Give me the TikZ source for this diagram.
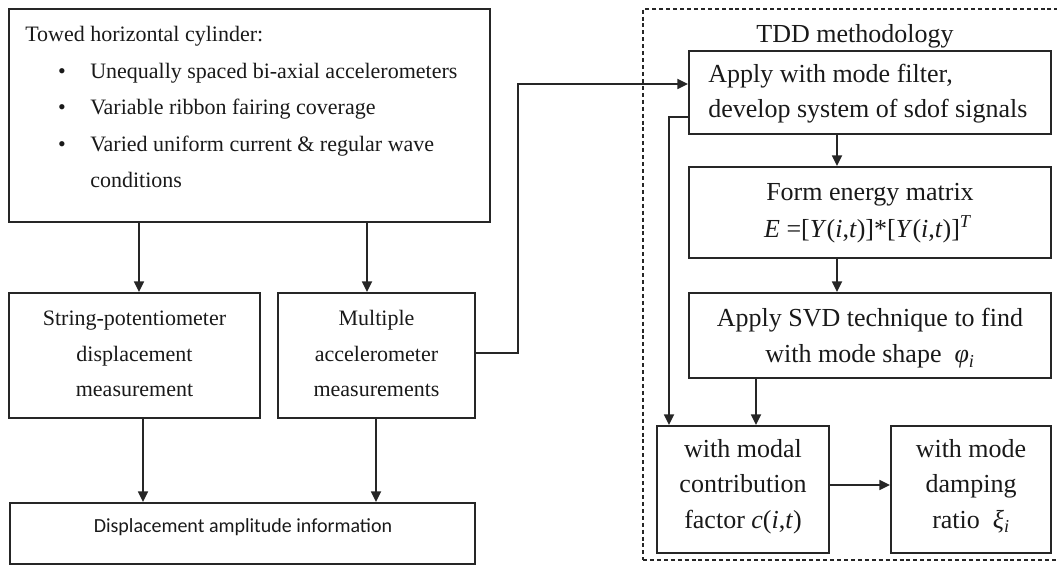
\documentclass[tikz,border=0pt]{standalone}
\usepackage{fontspec}
\setmainfont{Liberation Serif}
\newfontfamily\calibfont{Carlito}
\usetikzlibrary{arrows.meta,fit}
\newcommand\mainsz{\fontsize{16.5}{27.4}\selectfont}
\newcommand\tddsz{\fontsize{19.5}{27.4}\selectfont}
\begin{document}
\begin{tikzpicture}[x=0.75pt,y=-0.75pt,
  ink/.style={draw=black!85},
  box/.style={ink, line width=1.5pt, inner sep=0pt},
  txt/.style={inner sep=0pt, font=\mainsz, text=black!90, anchor=base},
  ttxt/.style={txt, font=\tddsz},
  dashbox/.style={ink, line width=1pt, dash pattern=on 3pt off 2.2pt, inner sep=0pt},
  arr/.style={ink, line width=1.3pt, -{Triangle[length=8pt,width=7.5pt]}}]
\useasboundingbox (0,0) rectangle (1057,566);

% ---- input description ----
\node[box, fit={(9,9) (490,222)}] (top) {};
\node[txt, anchor=base west] (t0) at (25,42) {Towed horizontal cylinder:};
\node[txt] (b1) at (62,79) {\textbullet};
\node[txt, anchor=base west] (t1) at (90,79) {Unequally spaced bi-axial accelerometers};
\node[txt] (b2) at (62,115) {\textbullet};
\node[txt, anchor=base west] (t2) at (90,115) {Variable ribbon fairing coverage};
\node[txt] (b3) at (62,152) {\textbullet};
\node[txt, anchor=base west] (t3) at (90,152) {Varied uniform current \& regular wave};
\node[txt, anchor=base west] (t4) at (90,188) {conditions};

% ---- measurements ----
\node[box, fit={(9,293) (260,418)}] (str) {};
\node[txt] (s1) at (134.5,326) {String-potentiometer};
\node[txt] (s2) at (134.5,362) {displacement};
\node[txt] (s3) at (134.5,397) {measurement};

\node[box, fit={(278,293) (475,418)}] (mul) {};
\node[txt] (m1) at (376.5,326) {Multiple};
\node[txt] (m2) at (376.5,362) {accelerometer};
\node[txt] (m3) at (376.5,397) {measurements};

\node[box, fit={(10,503) (475,564)}] (disp) {};
\node[txt, anchor=center, font=\calibfont\fontsize{15}{18}\selectfont] (disptext) at (243,527) {Displacement amplitude information};

% ---- TDD methodology ----
\node[dashbox, fit={(643,9) (1064,560)}] (tdd) {};
\node[ttxt] (tddlabel) at (855,43) {TDD methodology};

\node[box, fit={(689,51) (1051,134)}] (apply) {};
\node[ttxt, anchor=base west] (a1) at (708,83) {Apply with mode filter,};
\node[ttxt, anchor=base west] (a2) at (708,118) {develop system of sdof signals};

\node[box, fit={(689,167) (1051,258)}] (form) {};
\node[ttxt] (f1) at (870,201) {Form energy matrix};
\node[ttxt] (f2) at (868,238) {\textit{E} =[\textit{Y}(\textit{i},\textit{t})]*[\textit{Y}(\textit{i},\textit{t})]\textsuperscript{\textit{T}}};

\node[box, fit={(689,293) (1051,378)}] (svd) {};
\node[ttxt] (v1) at (870,327) {Apply SVD technique to find};
\node[ttxt] (v2) at (870,363) {with mode shape \ \textit{φ}\textsubscript{\textit{i}}};

\node[box, fit={(657,426) (829,553)}] (modal) {};
\node[ttxt] (c1) at (743,458) {with modal};
\node[ttxt] (c2) at (743,493) {contribution};
\node[ttxt] (c3) at (743,528) {factor \textit{c}(\textit{i},\textit{t})};

\node[box, fit={(891,426) (1051,553)}] (damp) {};
\node[ttxt] (d1) at (971,458) {with mode};
\node[ttxt] (d2) at (971,493) {damping};
\node[ttxt] (d3) at (971,528) {ratio \ \textit{ξ}\textsubscript{\textit{i}}};

% ---- connector positions ----
\coordinate (xa) at (139,0);
\coordinate (xb) at (367,0);
\coordinate (xc) at (143,0);
\coordinate (xh) at (376,0);
\coordinate (xd) at (837,0);
\coordinate (xe) at (756,0);
\coordinate (xf) at (669,0);
\coordinate (xg) at (518,0);
\coordinate (ya) at (0,84);
\coordinate (yb) at (0,117);
\coordinate (yc) at (0,485);
\coordinate (yd) at (0,353);

% ---- connectors ----
\draw[arr] (top.south -| xa) -- (str.north -| xa);
\draw[arr] (top.south -| xb) -- (mul.north -| xb);
\draw[arr] (str.south -| xc) -- (disp.north -| xc);
\draw[arr] (mul.south -| xh) -- (disp.north -| xh);
\draw[arr] (mul.east |- yd) -- (xg |- yd) -- (xg |- ya) -- (apply.west |- ya);
\draw[arr] (apply.south -| xd) -- (form.north -| xd);
\draw[arr] (form.south -| xd) -- (svd.north -| xd);
\draw[arr] (svd.south -| xe) -- (modal.north -| xe);
\draw[arr] (apply.west |- yb) -- (xf |- yb) -- (modal.north -| xf);
\draw[arr] (modal.east |- yc) -- (damp.west |- yc);
\end{tikzpicture}
\end{document}
